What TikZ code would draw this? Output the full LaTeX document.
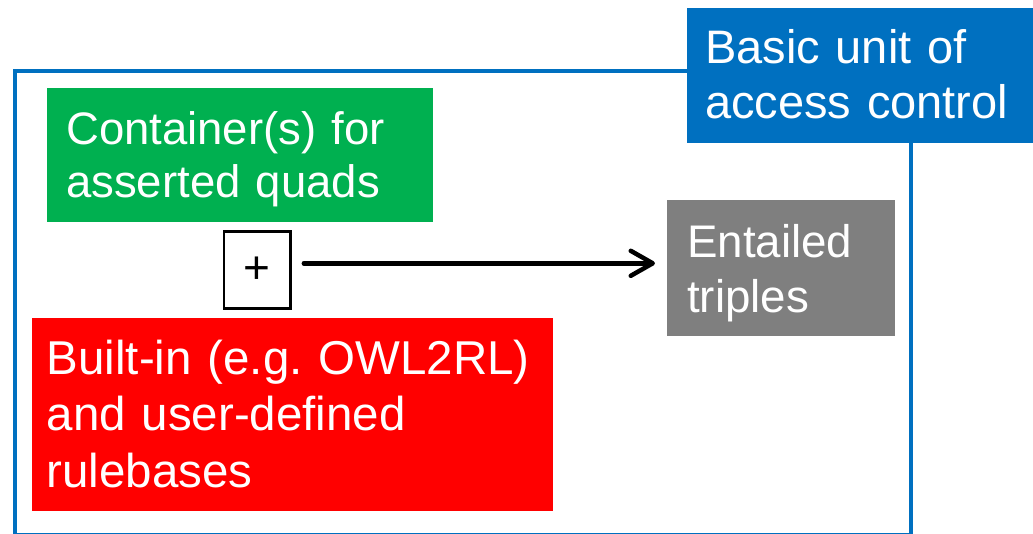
\documentclass[tikz,border=0pt]{standalone}
\usepackage{fontspec}
\setmainfont{Liberation Sans}
\usetikzlibrary{arrows.meta,calc}

\definecolor{acblue}{HTML}{0070C0}
\definecolor{acgreen}{HTML}{00B050}
\definecolor{acred}{HTML}{FF0000}
\definecolor{acgray}{HTML}{7F7F7F}

\frenchspacing

% first-line height and last-line depth are fixed by struts so the
% text sits at the same place inside each coloured panel
\newcommand\panelbody[3]{\rule{0pt}{#1}#3\rule[-#2]{0pt}{#2}}

\tikzset{
  panel/.style={anchor=north west, inner ysep=0pt, align=left,
                text=white, fill=#1},
  frame/.style={draw=acblue, line width=3.5pt},
  plusbox/.style={draw=black, line width=2.4pt, minimum width=66.7pt,
                  minimum height=76.7pt, inner sep=0pt},
  flow/.style={line width=4.5pt, line cap=round,
               -{Straight Barb[length=22pt,width=25pt,round]}},
}

\begin{document}
\begin{tikzpicture}[x=1pt,y=-1pt]
\useasboundingbox (0,0) rectangle (1033,533);
\begin{scope}
\clip (0,0) rectangle (1033,533);

% the access-control unit
\draw[frame] (15,71) rectangle (911,535);

\node[panel=acblue, inner xsep=18pt, text width=310pt,
      font=\fontsize{47}{55}\selectfont] (unit) at (687,8)
  {\panelbody{55pt}{25pt}{Basic unit of\\access control}};

\node[panel=acgreen, inner xsep=19pt, text width=348pt,
      font=\fontsize{45.5}{53.5}\selectfont] (quads) at (47,88)
  {\panelbody{56pt}{24.5pt}{Container(s) for\\asserted quads}};

\node[panel=acred, inner xsep=15pt, text width=491.5pt,
      font=\fontsize{47.5}{56.5}\selectfont] (rules) at (31.5,318)
  {\panelbody{56pt}{24pt}{Built-in (e.g. OWL2RL)\\and user-defined\\rulebases}};

\node[panel=acgray, inner xsep=20pt, text width=188pt,
      font=\fontsize{45.7}{55}\selectfont] (ent) at (667,200)
  {\panelbody{57pt}{23.7pt}{Entailed\\triples}};

\node[plusbox, font=\fontsize{46}{50}\selectfont] (plus) at (257.3,270) {+};

\draw[flow] ($(plus.east)+(12,-6.7)$) coordinate (a)
  -- ([xshift=-12pt]a -| ent.west);
\end{scope}
\end{tikzpicture}
\end{document}
